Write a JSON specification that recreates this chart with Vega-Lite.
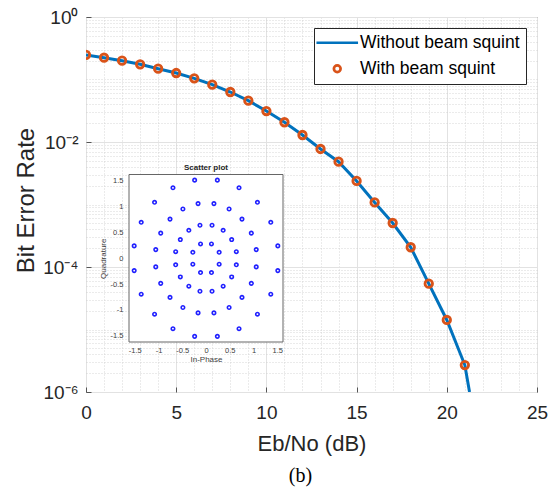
{
  "$schema": "https://vega.github.io/schema/vega-lite/v6.json",
  "width": 451,
  "height": 375,
  "autosize": {"type": "none"},
  "padding": {"left": 86, "top": 17, "right": 17, "bottom": 96},
  "background": "white",
  "title": {"text": "(b)", "orient": "bottom", "anchor": "middle", "frame": "group", "font": "Liberation Serif", "fontSize": 20, "fontWeight": "normal", "color": "#000000", "dx": -11, "offset": 12},
  "config": {
    "font": "Liberation Sans",
    "view": {"stroke": "#555555", "strokeWidth": 1},
    "axis": {"labelFont": "Liberation Sans", "titleFont": "Liberation Sans", "labelColor": "#262626", "titleColor": "#262626", "titleFontWeight": "normal", "domain": false}
  },
  "datasets": {
    "withSquint": [
      {"ebno": 0, "ber": 0.247, "series": "With beam squint"},
      {"ebno": 1, "ber": 0.223, "series": "With beam squint"},
      {"ebno": 2, "ber": 0.2, "series": "With beam squint"},
      {"ebno": 3, "ber": 0.175, "series": "With beam squint"},
      {"ebno": 4, "ber": 0.149, "series": "With beam squint"},
      {"ebno": 5, "ber": 0.127, "series": "With beam squint"},
      {"ebno": 6, "ber": 0.1045, "series": "With beam squint"},
      {"ebno": 7, "ber": 0.0826, "series": "With beam squint"},
      {"ebno": 8, "ber": 0.0631, "series": "With beam squint"},
      {"ebno": 9, "ber": 0.0458, "series": "With beam squint"},
      {"ebno": 10, "ber": 0.0313, "series": "With beam squint"},
      {"ebno": 11, "ber": 0.0207, "series": "With beam squint"},
      {"ebno": 12, "ber": 0.01294, "series": "With beam squint"},
      {"ebno": 13, "ber": 0.00773, "series": "With beam squint"},
      {"ebno": 14, "ber": 0.00484, "series": "With beam squint"},
      {"ebno": 15, "ber": 0.00238, "series": "With beam squint"},
      {"ebno": 16, "ber": 0.00108, "series": "With beam squint"},
      {"ebno": 17, "ber": 0.000506, "series": "With beam squint"},
      {"ebno": 18, "ber": 0.000207, "series": "With beam squint"},
      {"ebno": 19, "ber": 0.0000541, "series": "With beam squint"},
      {"ebno": 20, "ber": 0.0000142, "series": "With beam squint"},
      {"ebno": 21, "ber": 0.0000027, "series": "With beam squint"}
    ],
    "withoutSquint": [
      {"ebno": 0, "ber": 0.247},
      {"ebno": 1, "ber": 0.223},
      {"ebno": 2, "ber": 0.2},
      {"ebno": 3, "ber": 0.175},
      {"ebno": 4, "ber": 0.149},
      {"ebno": 5, "ber": 0.127},
      {"ebno": 6, "ber": 0.1045},
      {"ebno": 7, "ber": 0.0826},
      {"ebno": 8, "ber": 0.0631},
      {"ebno": 9, "ber": 0.0458},
      {"ebno": 10, "ber": 0.0313},
      {"ebno": 11, "ber": 0.0207},
      {"ebno": 12, "ber": 0.01294},
      {"ebno": 13, "ber": 0.00773},
      {"ebno": 14, "ber": 0.00484},
      {"ebno": 15, "ber": 0.00238},
      {"ebno": 16, "ber": 0.00108},
      {"ebno": 17, "ber": 0.000506},
      {"ebno": 18, "ber": 0.000207},
      {"ebno": 19, "ber": 0.0000541},
      {"ebno": 20, "ber": 0.0000142},
      {"ebno": 21, "ber": 0.0000027},
      {"ebno": 21.26, "ber": 0.000001}
    ],
    "constellation": [
      {"i": 0.277, "q": 0.115}, {"i": 0.115, "q": 0.277}, {"i": -0.115, "q": 0.277}, {"i": -0.277, "q": 0.115},
      {"i": -0.277, "q": -0.115}, {"i": -0.115, "q": -0.277}, {"i": 0.115, "q": -0.277}, {"i": 0.277, "q": -0.115},
      {"i": 0.638, "q": 0.127}, {"i": 0.54, "q": 0.361}, {"i": 0.361, "q": 0.54}, {"i": 0.127, "q": 0.638},
      {"i": -0.127, "q": 0.638}, {"i": -0.361, "q": 0.54}, {"i": -0.54, "q": 0.361}, {"i": -0.638, "q": 0.127},
      {"i": -0.638, "q": -0.127}, {"i": -0.54, "q": -0.361}, {"i": -0.361, "q": -0.54}, {"i": -0.127, "q": -0.638},
      {"i": 0.127, "q": -0.638}, {"i": 0.361, "q": -0.54}, {"i": 0.54, "q": -0.361}, {"i": 0.638, "q": -0.127},
      {"i": 1.057, "q": 0.167}, {"i": 0.953, "q": 0.486}, {"i": 0.757, "q": 0.757}, {"i": 0.486, "q": 0.953},
      {"i": 0.167, "q": 1.057}, {"i": -0.167, "q": 1.057}, {"i": -0.486, "q": 0.953}, {"i": -0.757, "q": 0.757},
      {"i": -0.953, "q": 0.486}, {"i": -1.057, "q": 0.167}, {"i": -1.057, "q": -0.167}, {"i": -0.953, "q": -0.486},
      {"i": -0.757, "q": -0.757}, {"i": -0.486, "q": -0.953}, {"i": -0.167, "q": -1.057}, {"i": 0.167, "q": -1.057},
      {"i": 0.486, "q": -0.953}, {"i": 0.757, "q": -0.757}, {"i": 0.953, "q": -0.486}, {"i": 1.057, "q": -0.167},
      {"i": 1.511, "q": 0.239}, {"i": 1.363, "q": 0.695}, {"i": 1.082, "q": 1.082}, {"i": 0.695, "q": 1.363},
      {"i": 0.239, "q": 1.511}, {"i": -0.239, "q": 1.511}, {"i": -0.695, "q": 1.363}, {"i": -1.082, "q": 1.082},
      {"i": -1.363, "q": 0.695}, {"i": -1.511, "q": 0.239}, {"i": -1.511, "q": -0.239}, {"i": -1.363, "q": -0.695},
      {"i": -1.082, "q": -1.082}, {"i": -0.695, "q": -1.363}, {"i": -0.239, "q": -1.511}, {"i": 0.239, "q": -1.511},
      {"i": 0.695, "q": -1.363}, {"i": 1.082, "q": -1.082}, {"i": 1.363, "q": -0.695}, {"i": 1.511, "q": -0.239}
    ]
  },
  "layer": [
    {
      "layer": [
        {
          "data": {"name": "withoutSquint"},
          "mark": {"type": "line", "color": "#0072BD", "strokeWidth": 3, "clip": true},
          "encoding": {
            "x": {"field": "ebno", "type": "quantitative", "scale": {"domain": [0, 25], "nice": false, "zero": false},
              "axis": {"orient": "bottom", "values": [0, 5, 10, 15, 20, 25], "grid": true, "gridColor": "#e2e2e2", "gridWidth": 1, "ticks": true, "tickSize": -5, "tickColor": "#555555", "labelFontSize": 19, "labelPadding": 16, "labelFlush": false, "labelOverlap": false, "title": "Eb/No (dB)", "titleFontSize": 22, "titlePadding": 11}},
            "y": {"field": "ber", "type": "quantitative", "scale": {"type": "log", "domain": [0.000001, 1], "nice": false},
              "axis": {"orient": "left", "values": [0.000001, 0.0001, 0.01, 1], "grid": true, "gridColor": "#e2e2e2", "gridWidth": 1, "ticks": true, "tickSize": -5, "tickColor": "#555555", "labelFontSize": 19, "labelPadding": 13, "labelFlush": false, "labelOverlap": false, "labelExpr": "datum.value >= 0.5 ? '10⁰' : datum.value >= 0.005 ? '10⁻²' : datum.value >= 0.00005 ? '10⁻⁴' : '10⁻⁶'", "title": "Bit Error Rate", "titleFontSize": 24, "titlePadding": 4, "titleY": 183}}
          }
        },
        {
          "data": {"name": "withSquint"},
          "mark": {"type": "point", "filled": false, "size": 56, "strokeWidth": 2.8, "opacity": 1, "clip": true},
          "encoding": {
            "x": {"field": "ebno", "type": "quantitative",
              "axis": {"orient": "bottom", "values": [1, 2, 3, 4, 6, 7, 8, 9, 11, 12, 13, 14, 16, 17, 18, 19, 21, 22, 23, 24], "grid": true, "gridColor": "#cccccc", "gridDash": [1, 2], "gridWidth": 0.8, "labels": false, "ticks": false, "title": null}},
            "y": {"field": "ber", "type": "quantitative",
              "axis": {"orient": "left", "values": [0.000002, 0.000003, 0.000004, 0.000005, 0.000006, 0.000007, 0.000008, 0.000009, 0.00001, 0.00002, 0.00003, 0.00004, 0.00005, 0.00006, 0.00007, 0.00008, 0.00009, 0.0002, 0.0003, 0.0004, 0.0005, 0.0006, 0.0007, 0.0008, 0.0009, 0.001, 0.002, 0.003, 0.004, 0.005, 0.006, 0.007, 0.008, 0.009, 0.02, 0.03, 0.04, 0.05, 0.06, 0.07, 0.08, 0.09, 0.1, 0.2, 0.3, 0.4, 0.5, 0.6, 0.7, 0.8, 0.9], "grid": true, "gridColor": "#cccccc", "gridDash": [1, 2], "gridWidth": 0.8, "labels": false, "ticks": false, "title": null}},
            "color": {"field": "series", "type": "nominal",
              "scale": {"domain": ["Without beam squint", "With beam squint"], "range": ["#0072BD", "#D95319"]},
              "legend": {"title": null, "orient": "top-right", "offset": 11, "fillColor": "white", "strokeColor": "#262626", "padding": 6, "labelFontSize": 17.5, "labelFont": "Liberation Sans", "labelColor": "#000000", "symbolSize": 45, "symbolStrokeWidth": 2.7, "symbolOffset": 8.5, "labelOffset": 14, "rowPadding": 7, "labelLimit": 300, "cornerRadius": 0}},
            "shape": {"field": "series", "type": "nominal",
              "scale": {"domain": ["Without beam squint", "With beam squint"], "range": ["M-6.2,0H6.2", "circle"]},
              "legend": {"title": null, "orient": "top-right", "offset": 11, "fillColor": "white", "strokeColor": "#262626", "padding": 6, "labelFontSize": 17.5, "labelFont": "Liberation Sans", "labelColor": "#000000", "symbolSize": 45, "symbolStrokeWidth": 2.7, "symbolOffset": 8.5, "labelOffset": 14, "rowPadding": 7, "labelLimit": 300, "cornerRadius": 0}}
          }
        }
      ],
      "resolve": {"axis": {"x": "independent", "y": "independent"}}
    },
    {
      "layer": [
        {
          "data": {"values": [{"label": "Scatter plot"}]},
          "mark": {"type": "rect", "fill": "white", "stroke": "#666666", "strokeWidth": 1},
          "encoding": {
            "x": {"datum": -1.62, "type": "quantitative", "scale": {"domain": [-1.62, 1.62], "range": [43, 197], "nice": false, "zero": false},
              "axis": {"orient": "bottom", "offset": -50, "values": [-1.5, -1, -0.5, 0, 0.5, 1, 1.5], "labelExpr": "'' + datum.value", "grid": false, "ticks": false, "labelFontSize": 7.5, "labelColor": "#404040", "labelPadding": 4, "labelFlush": false, "labelOverlap": false, "title": "In-Phase", "titleFontSize": 8, "titleColor": "#404040", "titlePadding": 2, "zindex": 1}},
            "x2": {"datum": 1.62},
            "y": {"datum": -1.62, "type": "quantitative", "scale": {"domain": [-1.62, 1.62], "range": [325, 157.5], "nice": false, "zero": false},
              "axis": {"orient": "left", "offset": -43, "values": [-1.5, -1, -0.5, 0, 0.5, 1, 1.5], "labelExpr": "'' + datum.value", "grid": false, "ticks": false, "labelFontSize": 7.5, "labelColor": "#404040", "labelPadding": 6, "labelFlush": false, "labelOverlap": false, "title": "Quadrature", "titleFontSize": 8, "titleColor": "#404040", "titlePadding": 3, "zindex": 1}},
            "y2": {"datum": 1.62}
          }
        },
        {
          "data": {"name": "constellation"},
          "mark": {"type": "point", "filled": false, "size": 12, "strokeWidth": 1.6, "color": "#2020ff", "opacity": 1},
          "encoding": {
            "x": {"field": "i", "type": "quantitative"},
            "y": {"field": "q", "type": "quantitative"}
          }
        },
        {
          "data": {"values": [{"label": "Scatter plot"}]},
          "mark": {"type": "text", "fontSize": 8, "fontWeight": "bold", "color": "#262626", "baseline": "bottom", "dy": -3, "font": "Liberation Sans"},
          "encoding": {
            "x": {"datum": 0, "type": "quantitative"},
            "y": {"datum": 1.62, "type": "quantitative"},
            "text": {"field": "label"}
          }
        }
      ]
    }
  ],
  "resolve": {"scale": {"x": "independent", "y": "independent"}}
}
